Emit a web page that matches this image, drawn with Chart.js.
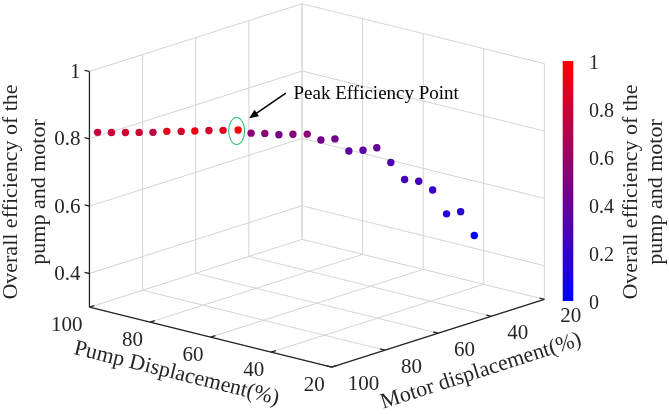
<!DOCTYPE html>
<html>
<head>
<meta charset="utf-8">
<script src="https://cdn.jsdelivr.net/npm/chart.js@4.4.1/dist/chart.umd.min.js"></script>
<style>
  html, body { margin: 0; padding: 0; background: #fff; }
  #wrap { width: 669px; height: 414px; position: relative; }
</style>
</head>
<body>
<div id="wrap"><canvas id="chart"></canvas></div>
<script>
// operating points (pump %, motor %, overall efficiency)
const pumpDisp = [98.7, 93.7, 91.1, 88.6, 90.0, 76.2, 79.8, 68.9, 75.2, 67.9, 55.9,
  87.0, 84.3, 87.2, 80.9, 76.0, 77.9, 75.9, 74.1, 71.1, 66.9, 63.5, 54.2, 50.6, 46.0, 35.0, 32.9, 29.0];
const motorDisp = [98.4, 98.9, 96.6, 94.3, 87.5, 98.0, 88.5, 95.8, 83.3, 86.3, 94.3,
  54.0, 51.9, 43.3, 45.2, 45.4, 38.1, 35.1, 31.9, 30.0, 29.6, 28.2, 33.6, 32.4, 32.4, 39.7, 36.8, 36.1];
const efficiency = [0.818, 0.830, 0.830, 0.830, 0.810, 0.870, 0.838, 0.882, 0.838, 0.862, 0.910,
  0.730, 0.730, 0.698, 0.718, 0.730, 0.690, 0.690, 0.650, 0.654, 0.670, 0.630, 0.614, 0.614, 0.598, 0.570, 0.574, 0.510];

const pumpTicks = [100, 80, 60, 40, 20];
const motorTicks = [100, 80, 60, 40, 20];
const effTicks = [0.4, 0.6, 0.8, 1];
const cbarTicks = [0, 0.2, 0.4, 0.6, 0.8, 1];

const pumpLim = [20, 100];
const motorLim = [20, 100];
const effLim = [0.3, 1];

// fixed view (orthographic): where the box edges go
const origin = [86.7, 309];    // pump 100, motor 100, eff 0.3
const pumpVec = [245, 61];     // pump 100 -> 20
const motorVec = [215, -69];   // motor 100 -> 20
const effVec = [0, -240];      // eff 0.3 -> 1

function project(pump, motor, eff) {
  const p = (pumpLim[1] - pump) / (pumpLim[1] - pumpLim[0]);
  const m = (motorLim[1] - motor) / (motorLim[1] - motorLim[0]);
  const h = (eff - effLim[0]) / (effLim[1] - effLim[0]);
  return {
    x: origin[0] + pumpVec[0] * p + motorVec[0] * m + effVec[0] * h,
    y: origin[1] + pumpVec[1] * p + motorVec[1] * m + effVec[1] * h
  };
}

// blue -> red colormap, scaled to the data range like caxis auto
const eMin = Math.min(...efficiency), eMax = Math.max(...efficiency);
function cmap(t) {
  return 'rgb(' + Math.round(255 * t) + ',0,' + Math.round(255 * (1 - t)) + ')';
}
const pointColors = efficiency.map(e => cmap((e - eMin) / (eMax - eMin)));
const peakIdx = efficiency.indexOf(eMax);

const SERIF = '"Liberation Serif", "Times New Roman", serif';
const INK = '#262626';

function unit(v) { const l = Math.hypot(v[0], v[1]); return [v[0] / l, v[1] / l]; }
function fmt(v) { return String(+v.toFixed(1)); }

const axes3d = {
  id: 'axes3d',
  beforeDatasetsDraw(chart) {
    const ctx = chart.ctx;
    const xs = chart.scales.x, ys = chart.scales.y;
    const px = (pu, mo, ef) => {
      const q = project(pu, mo, ef);
      return [xs.getPixelForValue(q.x), ys.getPixelForValue(q.y)];
    };
    const line = (a, b) => { ctx.beginPath(); ctx.moveTo(a[0], a[1]); ctx.lineTo(b[0], b[1]); ctx.stroke(); };

    ctx.save();
    // grid on floor and the two back walls
    ctx.strokeStyle = '#d4d4d4';
    ctx.lineWidth = 1;
    pumpTicks.forEach(p => {
      line(px(p, motorLim[1], effLim[0]), px(p, motorLim[0], effLim[0]));
      line(px(p, motorLim[0], effLim[0]), px(p, motorLim[0], effLim[1]));
    });
    motorTicks.forEach(m => {
      line(px(pumpLim[1], m, effLim[0]), px(pumpLim[0], m, effLim[0]));
      line(px(pumpLim[1], m, effLim[0]), px(pumpLim[1], m, effLim[1]));
    });
    effTicks.forEach(e => {
      line(px(pumpLim[1], motorLim[1], e), px(pumpLim[1], motorLim[0], e));
      line(px(pumpLim[1], motorLim[0], e), px(pumpLim[0], motorLim[0], e));
    });

    // axis lines
    ctx.strokeStyle = INK;
    ctx.lineWidth = 1.3;
    line(px(pumpLim[1], motorLim[1], effLim[0]), px(pumpLim[1], motorLim[1], effLim[1]));
    line(px(pumpLim[1], motorLim[1], effLim[0]), px(pumpLim[0], motorLim[1], effLim[0]));
    line(px(pumpLim[0], motorLim[1], effLim[0]), px(pumpLim[0], motorLim[0], effLim[0]));

    const tl = 5;
    const mDir = unit(motorVec), pDir = unit(pumpVec);
    ctx.fillStyle = INK;
    ctx.font = '21px ' + SERIF;

    // pump axis
    ctx.textAlign = 'right';
    ctx.textBaseline = 'middle';
    pumpTicks.forEach(p => {
      const a = px(p, motorLim[1], effLim[0]);
      line(a, [a[0] + mDir[0] * tl, a[1] + mDir[1] * tl]);
      ctx.fillText(String(p), a[0] - 7, a[1] + 18.5);
    });
    // motor axis
    ctx.textAlign = 'left';
    motorTicks.forEach(m => {
      const a = px(pumpLim[0], m, effLim[0]);
      line(a, [a[0] - pDir[0] * tl, a[1] - pDir[1] * tl]);
      ctx.fillText(String(m), a[0] + 16, a[1] + 17.5);
    });
    // efficiency axis
    ctx.textAlign = 'right';
    effTicks.forEach(e => {
      const a = px(pumpLim[1], motorLim[1], e);
      line(a, [a[0] - pDir[0] * tl, a[1] - pDir[1] * tl]);
      ctx.fillText(fmt(e), a[0] - 9, a[1] + 1);
    });

    // axis titles
    ctx.font = '22px ' + SERIF;
    ctx.textAlign = 'center';
    const pm = px((pumpLim[0] + pumpLim[1]) / 2, motorLim[1], effLim[0]);
    ctx.save();
    ctx.translate(pm[0] - 34, pm[1] + 36.5);
    ctx.rotate(Math.atan2(pumpVec[1], pumpVec[0]));
    ctx.fillText('Pump Displacement(%)', 0, 0);
    ctx.restore();

    const mm = px(pumpLim[0], (motorLim[0] + motorLim[1]) / 2, effLim[0]);
    ctx.save();
    ctx.translate(mm[0] + 43, mm[1] + 38);
    ctx.rotate(Math.atan2(motorVec[1], motorVec[0]));
    ctx.fillText('Motor displacement(%)', 0, 0);
    ctx.restore();

    ctx.save();
    ctx.translate(25, 192);
    ctx.rotate(-Math.PI / 2);
    ctx.fillText('Overall efficiency of the', 0, -14);
    ctx.fillText('pump and motor', 0, 14);
    ctx.restore();

    // colorbar
    const cb = { left: 562.7, right: 573.3, top: 61, bottom: 301 };
    const grad = ctx.createLinearGradient(0, cb.bottom, 0, cb.top);
    grad.addColorStop(0, cmap(0));
    grad.addColorStop(1, cmap(1));
    ctx.fillStyle = grad;
    ctx.fillRect(cb.left, cb.top, cb.right - cb.left, cb.bottom - cb.top);
    ctx.fillStyle = INK;
    ctx.font = '20px ' + SERIF;
    ctx.textAlign = 'left';
    cbarTicks.forEach(t => {
      const yy = cb.bottom - t * (cb.bottom - cb.top);
      ctx.fillText(fmt(t), 589, yy + 3);
    });
    ctx.font = '22px ' + SERIF;
    ctx.textAlign = 'center';
    ctx.save();
    ctx.translate(643.5, 192);
    ctx.rotate(-Math.PI / 2);
    ctx.fillText('Overall efficiency of the', 0, -12.5);
    ctx.fillText('pump and motor', 0, 12.5);
    ctx.restore();
    ctx.restore();
  },
  afterDatasetsDraw(chart) {
    const ctx = chart.ctx;
    const pt = chart.getDatasetMeta(0).data[peakIdx];
    const cx = pt.x, cy = pt.y;
    ctx.save();
    // circle round the peak
    ctx.strokeStyle = '#2fc27a';
    ctx.lineWidth = 1.1;
    ctx.beginPath();
    ctx.ellipse(cx - 1.5, cy + 1, 8, 13.5, 0, 0, Math.PI * 2);
    ctx.stroke();
    // arrow
    const a = [cx + 47.7, cy - 36.8], b = [cx + 11, cy - 11.8];
    const ang = Math.atan2(b[1] - a[1], b[0] - a[0]);
    ctx.strokeStyle = '#000';
    ctx.fillStyle = '#000';
    ctx.lineWidth = 1.5;
    ctx.beginPath();
    ctx.moveTo(a[0], a[1]);
    ctx.lineTo(b[0] - Math.cos(ang) * 6, b[1] - Math.sin(ang) * 6);
    ctx.stroke();
    ctx.beginPath();
    ctx.moveTo(b[0], b[1]);
    ctx.lineTo(b[0] - Math.cos(ang - 0.4) * 10, b[1] - Math.sin(ang - 0.4) * 10);
    ctx.lineTo(b[0] - Math.cos(ang + 0.4) * 10, b[1] - Math.sin(ang + 0.4) * 10);
    ctx.closePath();
    ctx.fill();
    ctx.font = '19px ' + SERIF;
    ctx.textAlign = 'left';
    ctx.textBaseline = 'middle';
    ctx.fillText('Peak Efficiency Point', cx + 55.4, cy - 35.8);
    ctx.restore();
  }
};

new Chart(document.getElementById('chart'), {
  type: 'scatter',
  data: {
    datasets: [{
      data: pumpDisp.map((p, i) => project(p, motorDisp[i], efficiency[i])),
      pointBackgroundColor: pointColors,
      pointBorderWidth: 0,
      pointRadius: 3.7,
      pointHoverRadius: 3.7
    }]
  },
  options: {
    responsive: true,
    maintainAspectRatio: false,
    animation: false,
    events: [],
    layout: { padding: 0 },
    plugins: { legend: { display: false }, tooltip: { enabled: false } },
    scales: {
      x: { type: 'linear', min: 0, max: 669, display: false },
      y: { type: 'linear', min: 0, max: 414, reverse: true, display: false }
    }
  },
  plugins: [axes3d]
});
</script>
</body>
</html>
